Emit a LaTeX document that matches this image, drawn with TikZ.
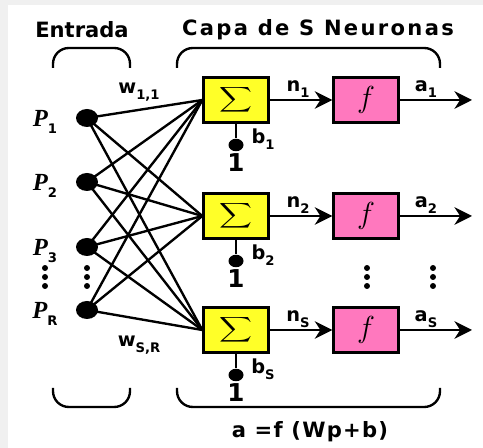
\documentclass[tikz,border=0pt]{standalone}
\usepackage{fontspec}
\setmainfont{DejaVu Sans}
\newfontfamily\pfont{Liberation Serif}
\usetikzlibrary{arrows.meta,shapes.geometric}
\definecolor{sumyellow}{RGB}{255,255,40}
\definecolor{actpink}{RGB}{255,120,190}
\newcommand{\lowidx}[1]{\raisebox{-0.3em}{\fontsize{7.5}{8}\selectfont #1}}
\begin{document}
\begin{tikzpicture}[x=0.02cm, y=-0.02cm, line width=1.35pt, >={Stealth[length=10pt,width=10pt]},
  sumbox/.style={draw, fill=sumyellow, minimum width=1.3cm, minimum height=0.9cm, inner sep=0pt},
  actbox/.style={draw, fill=actpink, minimum width=1.3cm, minimum height=0.9cm, inner sep=0pt},
  indot/.style={ellipse, fill, inner sep=0pt, minimum width=0.44cm, minimum height=0.36cm},
  biasdot/.style={ellipse, fill, inner sep=0pt, minimum width=0.3cm, minimum height=0.25cm},
  lbl/.style={font=\bfseries\fontsize{11}{12}\selectfont, inner sep=0pt},
  title/.style={font=\bfseries\fontsize{12}{13}\selectfont, inner sep=0pt},
  brace/.style={rounded corners=9pt}]
\useasboundingbox (0,0) rectangle (483,448);
\fill[gray!12] (0,0) rectangle (483,448);
\fill[white] (8,5) rectangle (483,448);
% titles
\node[title] (entrada) at (82,30) {Entrada};
\node[title] (capa) at (318,30) {\addfontfeatures{LetterSpace=11}Capa de S Neuronas};
\node[title] (eq) at (310,432) {\addfontfeatures{LetterSpace=6}a =f (Wp+b)};
% braces
\draw[brace] (53,68) -- (53,48) -- (130,48) -- (130,68);
\draw[brace] (177,68) -- (177,48) -- (440,48) -- (440,68);
\draw[brace] (53,388) -- (53,407) -- (130,407) -- (130,388);
\draw[brace] (177,388) -- (177,407) -- (440,407) -- (440,388);
% inputs
\foreach \i/\y in {1/118, 2/182, 3/247, R/310} {
  \node[indot] (p\i) at (87,\y) {};
  \node[font=\pfont\bfseries\itshape\fontsize{14}{14}\selectfont, inner sep=0pt] (lp\i) at (45,\y+4) {P\lowidx{\normalfont\bfseries\i}};
}
% neurons
\foreach \n/\y in {1/100, 2/216, S/330} {
  \node[sumbox] (s\n) at (236,\y) {\fontsize{13.5}{14}\selectfont\scalebox{1.3}[1]{$\displaystyle\sum$}};
  \node[actbox] (f\n) at (366,\y) {\fontsize{17}{17}\selectfont$f$};
  \node[biasdot] (d\n) at (236,\y+45) {};
  \node[font=\bfseries\fontsize{14}{14}\selectfont, inner sep=0pt] (one\n) at (236,\y+63) {1};
  \node[lbl] (b\n) at (263,\y+39) {b\lowidx{\n}};
  \node[lbl] (n\n) at (298,\y-11) {n\lowidx{\n}};
  \node[lbl] (a\n) at (426,\y-11) {a\lowidx{\n}};
  \coordinate (o\n) at (472,\y);
  \draw (s\n) -- (d\n);
  \draw[->] (s\n) -- (f\n);
  \draw[->] (f\n) -- (o\n);
}
% weights
\foreach \i in {1,2,3,R}
  \foreach \n in {1,2,S}
    \draw (p\i.center) -- (s\n.west);
\node[lbl] (w11) at (139,92) {w\lowidx{1,1}};
\node[lbl] (wSR) at (139,345) {w\lowidx{S,R}};
% ellipses
\foreach \x in {45,87,367,433}
  \foreach \y in {268,277,286}
    \fill (\x,\y) circle (1.7pt);
\end{tikzpicture}
\end{document}
